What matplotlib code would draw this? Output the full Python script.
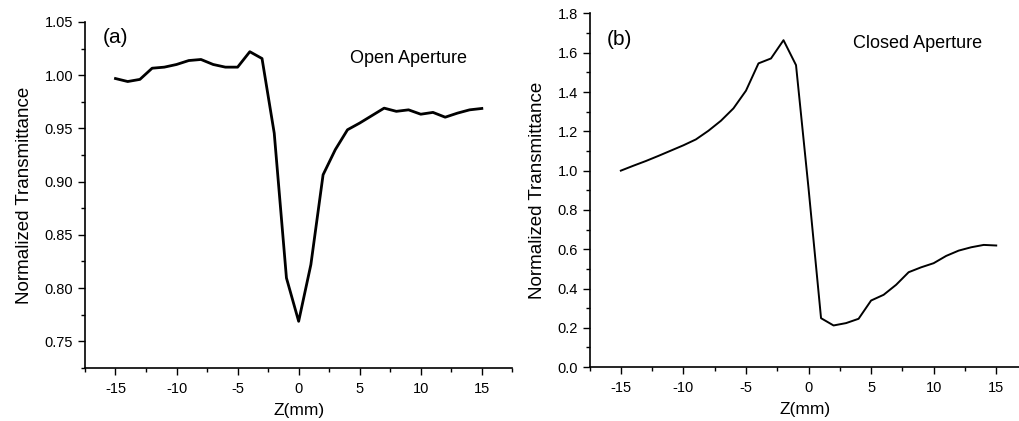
import numpy as np
import matplotlib.pyplot as plt
from matplotlib.ticker import MultipleLocator, FormatStrFormatter

plt.rcParams['font.family'] = ['Liberation Sans', 'DejaVu Sans']
plt.rcParams['axes.unicode_minus'] = False

# z positions (mm)
z = np.arange(-15, 16, 1)

# open aperture
openT = [0.9968, 0.994, 0.996, 1.0065, 1.0075, 1.010, 1.0137, 1.0147, 1.010, 1.0075,
         1.0075, 1.022, 1.0156, 0.9455, 0.8095, 0.7688, 0.822, 0.9064, 0.930, 0.9487,
         0.955, 0.962, 0.969, 0.966, 0.9674, 0.9633, 0.965, 0.9605, 0.9643, 0.9674, 0.9687]

# closed aperture
closedT = [1.0, 1.025, 1.049, 1.075, 1.102, 1.129, 1.159, 1.203, 1.254, 1.317,
           1.407, 1.546, 1.571, 1.664, 1.537, 0.91, 0.249, 0.212, 0.224, 0.246,
           0.339, 0.368, 0.419, 0.483, 0.508, 0.529, 0.566, 0.593, 0.610, 0.622, 0.619]

fig = plt.figure(figsize=(10.2, 4.21), dpi=100)
axA = fig.add_axes([0.0833, 0.126, 0.419, 0.822])
axB = fig.add_axes([0.578, 0.128, 0.422, 0.840])


def style(ax):
    ax.spines['top'].set_visible(False)
    ax.spines['right'].set_visible(False)
    for s in ['left', 'bottom']:
        ax.spines[s].set_linewidth(1.2)
    ax.tick_params(which='both', direction='out', width=1.0, labelsize=10.5)
    ax.tick_params(which='major', length=5)
    ax.tick_params(which='minor', length=3)
    ax.tick_params(axis='x', which='major', pad=5)
    ax.xaxis.set_major_locator(MultipleLocator(5))
    ax.xaxis.set_minor_locator(MultipleLocator(2.5))
    ax.set_xlabel('Z(mm)', fontsize=12.5, labelpad=5)
    ax.set_ylabel('Normalized Transmittance', fontsize=13.5, labelpad=8)


# (a)
axA.plot(z, openT, color='black', lw=2.0)
axA.set_xlim(-17.5, 17.5)
axA.set_ylim(0.725, 1.05)
style(axA)
axA.yaxis.set_major_locator(MultipleLocator(0.05))
axA.yaxis.set_minor_locator(MultipleLocator(0.025))
axA.yaxis.set_major_formatter(FormatStrFormatter('%.2f'))
axA.text(0.042, 0.954, '(a)', transform=axA.transAxes, fontsize=15, va='center')
axA.text(0.62, 0.893, 'Open Aperture', transform=axA.transAxes, fontsize=13, va='center')

# (b)
axB.plot(z, closedT, color='black', lw=1.4)
axB.set_xlim(-17.5, 16.9)
axB.set_ylim(0, 1.8)
style(axB)
axB.yaxis.set_major_locator(MultipleLocator(0.2))
axB.yaxis.set_minor_locator(MultipleLocator(0.1))
axB.yaxis.set_major_formatter(FormatStrFormatter('%.1f'))
axB.text(0.040, 0.925, '(b)', transform=axB.transAxes, fontsize=15, va='center')
axB.text(0.612, 0.916, 'Closed Aperture', transform=axB.transAxes, fontsize=13, va='center')

fig.savefig('out.png', dpi=100)
